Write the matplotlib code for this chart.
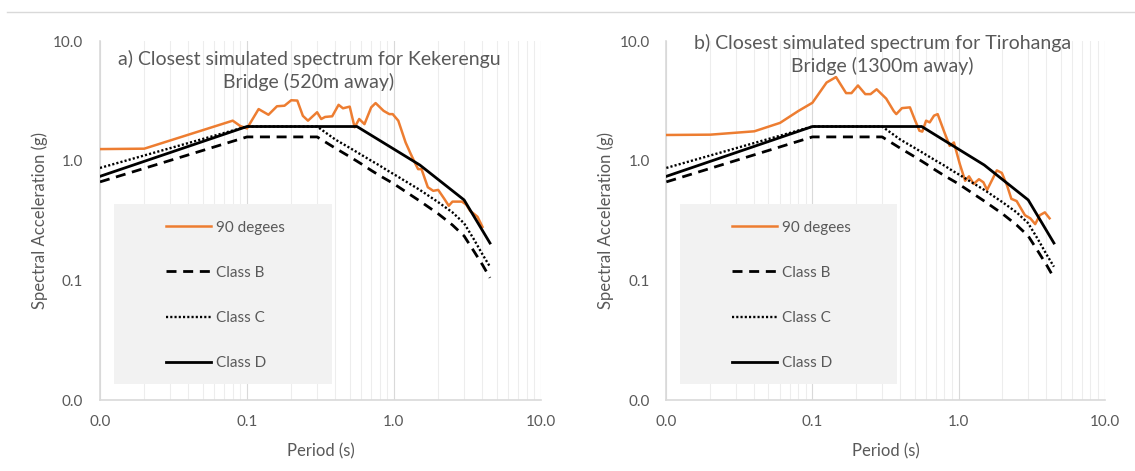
import matplotlib.pyplot as plt
import matplotlib.ticker as mticker
from matplotlib.lines import Line2D
from matplotlib.patches import Rectangle

plt.rcParams['font.family'] = ['Lato', 'DejaVu Sans']

GREY_TXT = '#595959'
ORANGE = '#ED7D31'

# Design spectra (same in both panels)
class_b_T = [0.01, 0.1, 0.2, 0.3, 0.4, 0.5, 0.6, 0.7, 0.8, 0.9, 1.0, 1.5, 2.0, 2.5, 3.0, 3.5, 4.0, 4.5]
class_b_sa = [0.665, 1.58, 1.58, 1.58, 1.27, 1.08, 0.94, 0.83, 0.75, 0.69, 0.64, 0.46, 0.36, 0.29, 0.235, 0.175, 0.135, 0.105]

class_c_T = [0.01, 0.1, 0.2, 0.3, 0.4, 0.5, 0.6, 0.7, 0.8, 0.9, 1.0, 1.5, 2.0, 2.5, 3.0, 3.5, 4.0, 4.5]
class_c_sa = [0.87, 1.93, 1.93, 1.93, 1.5, 1.28, 1.12, 1.0, 0.91, 0.83, 0.77, 0.57, 0.45, 0.37, 0.30, 0.22, 0.165, 0.13]

class_d_T = [0.01, 0.1, 0.56, 1.5, 3.0, 4.5]
class_d_sa = [0.74, 1.93, 1.93, 0.92, 0.47, 0.205]

# a) Kekerengu Bridge, 90 degrees component
kek_T = [0.01, 0.02, 0.08, 0.09, 0.1, 0.12, 0.14, 0.16, 0.18, 0.2, 0.22, 0.24, 0.26,
         0.3, 0.32, 0.34, 0.38, 0.42, 0.45, 0.5, 0.54, 0.58, 0.63, 0.7, 0.75, 0.85,
         0.93, 0.98, 1.07, 1.2, 1.3, 1.4, 1.46, 1.54, 1.7, 1.85, 2.0, 2.2, 2.36, 2.5,
         2.9, 3.1, 3.3, 3.5, 3.7, 4.0]
kek_sa = [1.25, 1.26, 2.16, 1.95, 1.86, 2.7, 2.42, 2.85, 2.88, 3.2, 3.18, 2.37, 2.16,
          2.54, 2.23, 2.32, 2.35, 2.93, 2.74, 2.83, 1.9, 2.23, 2.02, 2.79, 3.03, 2.61,
          2.45, 2.45, 2.16, 1.42, 1.14, 0.94, 0.85, 0.85, 0.6, 0.56, 0.57, 0.48, 0.42, 0.455,
          0.455, 0.43, 0.38, 0.36, 0.34, 0.28]

# b) Tirohanga Bridge, 90 degrees component
tir_T = [0.01, 0.02, 0.04, 0.06, 0.08, 0.1, 0.125, 0.145, 0.17, 0.185, 0.205, 0.23,
         0.25, 0.275, 0.32, 0.36, 0.375, 0.41, 0.465, 0.5, 0.54, 0.565, 0.6, 0.635,
         0.68, 0.72, 0.8, 0.87, 0.93, 1.02, 1.11, 1.18, 1.27, 1.38, 1.48, 1.57, 1.83,
         1.98, 2.15, 2.3, 2.5, 2.85, 3.1, 3.35, 3.6, 3.9, 4.2]
tir_sa = [1.64, 1.65, 1.76, 2.07, 2.6, 3.05, 4.5, 5.0, 3.67, 3.67, 4.25, 3.6,
          3.6, 3.95, 3.3, 2.6, 2.45, 2.75, 2.79, 2.23, 1.78, 1.75, 2.16, 2.09,
          2.38, 2.45, 1.73, 1.33, 1.42, 0.94, 0.68, 0.74, 0.64, 0.70, 0.66, 0.57, 0.83,
          0.79, 0.62, 0.48, 0.46, 0.35, 0.33, 0.295, 0.35, 0.37, 0.33]

tick_vals = [0.01, 0.1, 1, 10]
tick_labels = ['0.0', '0.1', '1.0', '10.0']


def draw_panel(ax, rec_T, rec_sa, title, tx, ty):
    ax.set_xscale('log')
    ax.set_yscale('log')
    ax.set_xlim(0.01, 10)
    ax.set_ylim(0.01, 10)

    ax.plot(rec_T, rec_sa, color=ORANGE, lw=1.8, label='90 degees', zorder=4)
    ax.plot(class_b_T, class_b_sa, color='black', lw=2.0, dashes=(3.6, 2.4), label='Class B', zorder=4)
    ax.plot(class_c_T, class_c_sa, color='black', lw=1.7, dashes=(0.9, 0.9), label='Class C', zorder=4)
    ax.plot(class_d_T, class_d_sa, color='black', lw=2.0, label='Class D', zorder=4)

    ax.set_xticks(tick_vals)
    ax.set_xticklabels(tick_labels)
    ax.set_yticks(tick_vals)
    ax.set_yticklabels(tick_labels)
    ax.xaxis.set_minor_locator(mticker.LogLocator(base=10, subs=range(2, 10)))
    ax.xaxis.set_minor_formatter(mticker.NullFormatter())
    ax.yaxis.set_minor_locator(mticker.NullLocator())
    ax.tick_params(which='both', length=0, labelsize=11, labelcolor=GREY_TXT)
    ax.tick_params(axis='x', pad=11)
    ax.tick_params(axis='y', pad=12)

    ax.grid(which='major', axis='x', color='#D9D9D9', lw=0.8, zorder=0)
    ax.grid(which='minor', axis='x', color='#EDEDED', lw=0.8, zorder=0)
    ax.set_axisbelow(True)
    for side in ['top', 'right']:
        ax.spines[side].set_visible(False)
    for side in ['left', 'bottom']:
        ax.spines[side].set_color('#D9D9D9')
        ax.spines[side].set_linewidth(1.2)

    ax.set_xlabel('Period (s)', fontsize=12, color=GREY_TXT, labelpad=10)
    ax.set_ylabel('Spectral Acceleration (g)', fontsize=12, color=GREY_TXT, labelpad=4)

    ax.text(tx, ty, title, transform=ax.transAxes, ha='center', va='center',
            fontsize=14, color=GREY_TXT, linespacing=1.3, zorder=5)

    ax.add_patch(Rectangle((0.032, 0.045), 0.495, 0.50, transform=ax.transAxes,
                           facecolor='#F2F2F2', edgecolor='none', zorder=2))
    ax.legend(loc='upper left', bbox_to_anchor=(0.15, 0.50), frameon=False,
              fontsize=11, labelcolor=GREY_TXT, handlelength=2.95,
              handletextpad=0.3, labelspacing=2.05, borderpad=0, borderaxespad=0)


fig = plt.figure(figsize=(11.35, 4.71), dpi=100)
ax_a = fig.add_axes([0.0881, 0.1507, 0.3885, 0.7622])
ax_b = fig.add_axes([0.5871, 0.1507, 0.3861, 0.7622])

draw_panel(ax_a, kek_T, kek_sa,
           'a) Closest simulated spectrum for Kekerengu\nBridge (520m away)', 0.474, 0.918)
draw_panel(ax_b, tir_T, tir_sa,
           'b) Closest simulated spectrum for Tirohanga\nBridge (1300m away)', 0.493, 0.962)

fig.add_artist(Line2D([0.006, 1.0], [0.9745, 0.9745], transform=fig.transFigure,
                      color='#D9D9D9', lw=1))

fig.savefig('out.png', dpi=100)
